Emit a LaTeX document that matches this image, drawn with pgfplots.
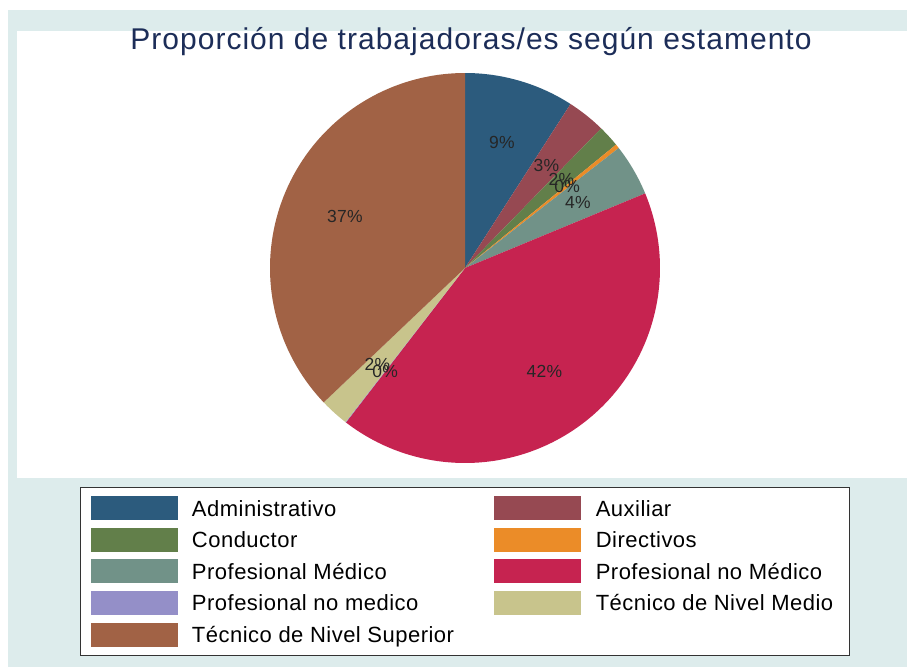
\documentclass[border=0pt]{standalone}
\usepackage{fontspec}
\setmainfont{Liberation Sans}
\newfontfamily\titlefam[LetterSpace=3.4]{Liberation Sans}
\newfontfamily\legfam[LetterSpace=2.2]{Liberation Sans}
\newfontfamily\labfam[LetterSpace=2]{Liberation Sans}
\usepackage{pgfplots}
\usepackage{pgfplotstable}
\pgfplotsset{compat=1.18}

\definecolor{slice0}{RGB}{44,91,125}
\definecolor{slice1}{RGB}{150,73,82}
\definecolor{slice2}{RGB}{98,127,74}
\definecolor{slice3}{RGB}{235,140,40}
\definecolor{slice4}{RGB}{113,146,136}
\definecolor{slice5}{RGB}{198,35,80}
\definecolor{slice6}{RGB}{148,143,200}
\definecolor{slice7}{RGB}{200,196,140}
\definecolor{slice8}{RGB}{161,98,69}
\definecolor{bgcol}{RGB}{221,236,236}
\definecolor{titlecol}{RGB}{28,45,88}

\pgfplotsset{legend image code/.code={%
  \fill[#1, draw=none] (0pt,-12pt) rectangle (87pt,12pt);
  \path (0pt,-15.4pt) (101pt,15.4pt);}}

% share (%) of each estamento, in pie order (clockwise from 12 o'clock)
\pgfplotstableread[col sep=comma]{
id,value
0,9.1
1,3.2
2,1.8
3,0.35
4,4.3
5,41.7
6,0.05
7,2.4
8,37.1
}\datatable

\begin{document}
\begin{tikzpicture}
\useasboundingbox (0,0) rectangle (907pt,667pt);
\fill[white] (0,0) rectangle (907pt,667pt);
\fill[bgcol] (8pt,0pt) rectangle (907pt,657pt);
\fill[white] (17pt,189pt) rectangle (907pt,636pt);

\xdef\cum{0}
\pgfplotsforeachungrouped \i in {0,...,8}{%
  \pgfplotstablegetelem{\i}{value}\of\datatable
  \let\v\pgfplotsretval
  \pgfmathsetmacro\s{90-3.6*\cum}%
  \pgfmathsetmacro\newcum{\cum+\v}%
  \pgfmathsetmacro\e{90-3.6*\newcum}%
  \pgfmathsetmacro\m{(\s+\e)/2}%
  \pgfmathtruncatemacro\lab{round(\v)}%
  \pgfmathsetmacro\lx{0.67*cos(\m)}%
  \pgfmathsetmacro\ly{0.67*sin(\m)}%
  \expandafter\xdef\csname sliceS\i\endcsname{\e}%
  \expandafter\xdef\csname sliceE\i\endcsname{\s}%
  \expandafter\xdef\csname sliceX\i\endcsname{\lx}%
  \expandafter\xdef\csname sliceY\i\endcsname{\ly}%
  \expandafter\xdef\csname sliceL\i\endcsname{\lab}%
  \xdef\cum{\newcum}%
}

\node[anchor=base, text=titlecol, font=\titlefam\fontsize{30}{36}\selectfont] at (471pt,617pt) {Proporción de trabajadoras/es según estamento};

\begin{axis}[
  at={(465pt,399pt)}, anchor=center,
  scale only axis, width=390pt, height=390pt,
  xmin=-1, xmax=1, ymin=-1, ymax=1,
  hide axis, clip=false,
  legend columns=2,
  legend cell align=left,
  legend style={at={(0.5,-0.0615)}, anchor=north,
    draw=black!80, line width=0.8pt, fill=white,
    inner xsep=10pt, inner ysep=5pt,
    nodes={inner sep=0pt, text height=18pt, text depth=2pt},
    font=\legfam\fontsize{22}{24}\selectfont,
    column sep=0pt, row sep=0pt},
]
\pgfplotsforeachungrouped \i in {0,...,8}{%
  \edef\temp{\noexpand\addplot[fill=slice\i, draw=none, forget plot,
     domain=\csname sliceS\i\endcsname:\csname sliceE\i\endcsname, samples=150]
     ({cos(x)},{sin(x)}) -- (axis cs:0,0) -- cycle;}%
  \temp
}
\pgfplotsforeachungrouped \i in {0,...,8}{%
  \edef\temp{\noexpand\node[font=\noexpand\labfam\noexpand\fontsize{17.5}{20}\noexpand\selectfont, text=black!85]
     at (axis cs:\csname sliceX\i\endcsname,\csname sliceY\i\endcsname) {\csname sliceL\i\endcsname\noexpand\%};}%
  \temp
}
\addlegendimage{fill=slice0}\addlegendentry{\makebox[302pt][l]{Administrativo}}
\addlegendimage{fill=slice1}\addlegendentry{\makebox[244pt][l]{Auxiliar}}
\addlegendimage{fill=slice2}\addlegendentry{\makebox[302pt][l]{Conductor}}
\addlegendimage{fill=slice3}\addlegendentry{\makebox[244pt][l]{Directivos}}
\addlegendimage{fill=slice4}\addlegendentry{\makebox[302pt][l]{Profesional Médico}}
\addlegendimage{fill=slice5}\addlegendentry{\makebox[244pt][l]{Profesional no Médico}}
\addlegendimage{fill=slice6}\addlegendentry{\makebox[302pt][l]{Profesional no medico}}
\addlegendimage{fill=slice7}\addlegendentry{\makebox[244pt][l]{Técnico de Nivel Medio}}
\addlegendimage{fill=slice8}\addlegendentry{\makebox[302pt][l]{Técnico de Nivel Superior}}
\end{axis}
\end{tikzpicture}
\end{document}
